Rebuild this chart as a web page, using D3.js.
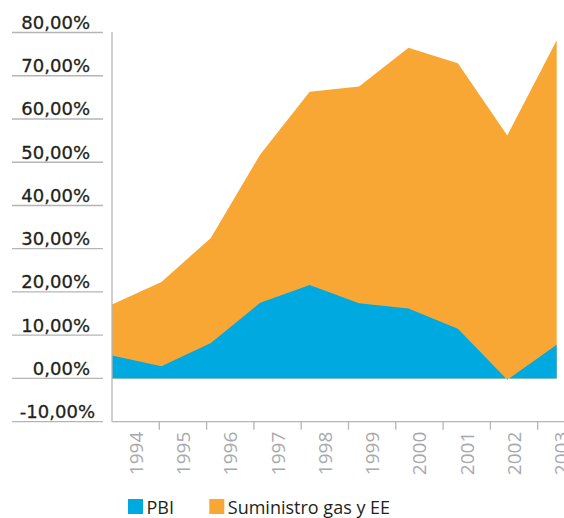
<!DOCTYPE html>
<html>
<head>
<meta charset="utf-8">
<script src="https://cdn.jsdelivr.net/npm/d3@7"></script>
<style>
	body { margin: 0; background: #fff; }
</style>
</head>
<body>
<div id="chart-wrapper"></div>
<script>
var years = ["1994", "1995", "1996", "1997", "1998", "1999", "2000", "2001", "2002", "2003"];
var pbi = [5.3, 2.8, 8.2, 17.5, 21.6, 17.4, 16.2, 11.5, -0.3, 7.8];
var suministro = [17.1, 22.3, 32.5, 51.8, 66.3, 67.5, 76.5, 72.9, 56.2, 78.2];
var yTicks = [80, 70, 60, 50, 40, 30, 20, 10, 0, -10];
var seriesNames = ["PBI", "Suministro gas y EE"];
var colors = ["#00a9e0", "#f9a734"];

var width = 564, height = 518;
var axisGray = "#b5b5b5";

var svg = d3.select("#chart-wrapper").append("svg")
	.attr("width", width)
	.attr("height", height);

var y = d3.scaleLinear().domain([-10, 80]).range([421.7, 32.5]);
var xBand = d3.scaleBand().domain(years).range([112, 585]);
var xPoint = d3.scalePoint().domain(years).range([112, 556.7]);

// y tick lines with labels sitting on them
svg.selectAll(".ytick").data(yTicks).enter().append("line")
	.attr("x1", 12).attr("x2", 103)
	.attr("y1", function(d){ return y(d); })
	.attr("y2", function(d){ return y(d); })
	.attr("stroke", axisGray)
	.attr("stroke-width", 1.3);

svg.selectAll(".ylabel").data(yTicks).enter().append("text")
	.attr("x", function(d){ return d < 0 ? 95 : 90; })
	.attr("y", function(d){ return y(d) - 3.5; })
	.style("text-anchor", "end")
	.style("font-family", "DejaVu Sans")
	.style("font-size", "18px")
	.style("fill", "#231f20")
	.style("stroke", "#231f20")
	.style("stroke-width", 0.3)
	.text(function(d){ return d.toFixed(2).replace(".", ",") + "%"; });

// areas, orange behind, blue on top
function drawArea(values, color){
	var area = d3.area()
		.x(function(d, i){ return xPoint(years[i]); })
		.y0(y(0))
		.y1(function(d){ return y(d); });
	svg.append("path")
		.datum(values)
		.attr("d", area)
		.attr("fill", color);
}
drawArea(suministro, colors[1]);
drawArea(pbi, colors[0]);

// axes lines
svg.append("line")
	.attr("x1", 112).attr("x2", 112)
	.attr("y1", 32).attr("y2", y(-10))
	.attr("stroke", axisGray).attr("stroke-width", 1.3);

var xAxis = d3.axisBottom(xBand).tickSize(0).tickFormat("");
var gx = svg.append("g")
	.attr("transform", "translate(0," + y(-10) + ")")
	.call(xAxis);
gx.select(".domain").remove();
gx.append("line")
	.attr("x1", 112).attr("x2", width)
	.attr("y1", 0).attr("y2", 0)
	.attr("stroke", axisGray).attr("stroke-width", 1.3);

// ticks between years
gx.selectAll(".sep").data(years).enter().append("line")
	.attr("x1", function(d){ return xBand(d) + xBand.bandwidth(); })
	.attr("x2", function(d){ return xBand(d) + xBand.bandwidth(); })
	.attr("y1", 0).attr("y2", 8)
	.attr("stroke", axisGray).attr("stroke-width", 1.3);

gx.selectAll(".xlabel").data(years).enter().append("text")
	.attr("transform", function(d){
		return "translate(" + (xBand(d) + xBand.bandwidth() / 2 + 7) + ",10) rotate(-90)";
	})
	.style("text-anchor", "end")
	.style("font-family", "Open Sans")
	.style("font-size", "19px")
	.style("fill", "#a7a9ac")
	.text(function(d){ return d; });

// legend
var legendX = [128, 209.3];
for(var i = 0; i < seriesNames.length; i++){
	svg.append("rect")
		.attr("x", legendX[i]).attr("y", 499)
		.attr("width", 15).attr("height", 15)
		.attr("fill", colors[i]);
	svg.append("text")
		.attr("x", legendX[i] + 18.5).attr("y", 514)
		.style("font-family", "Open Sans")
		.style("font-size", "18px")
		.style("fill", "#231f20")
		.text(seriesNames[i]);
}
</script>
</body>
</html>
